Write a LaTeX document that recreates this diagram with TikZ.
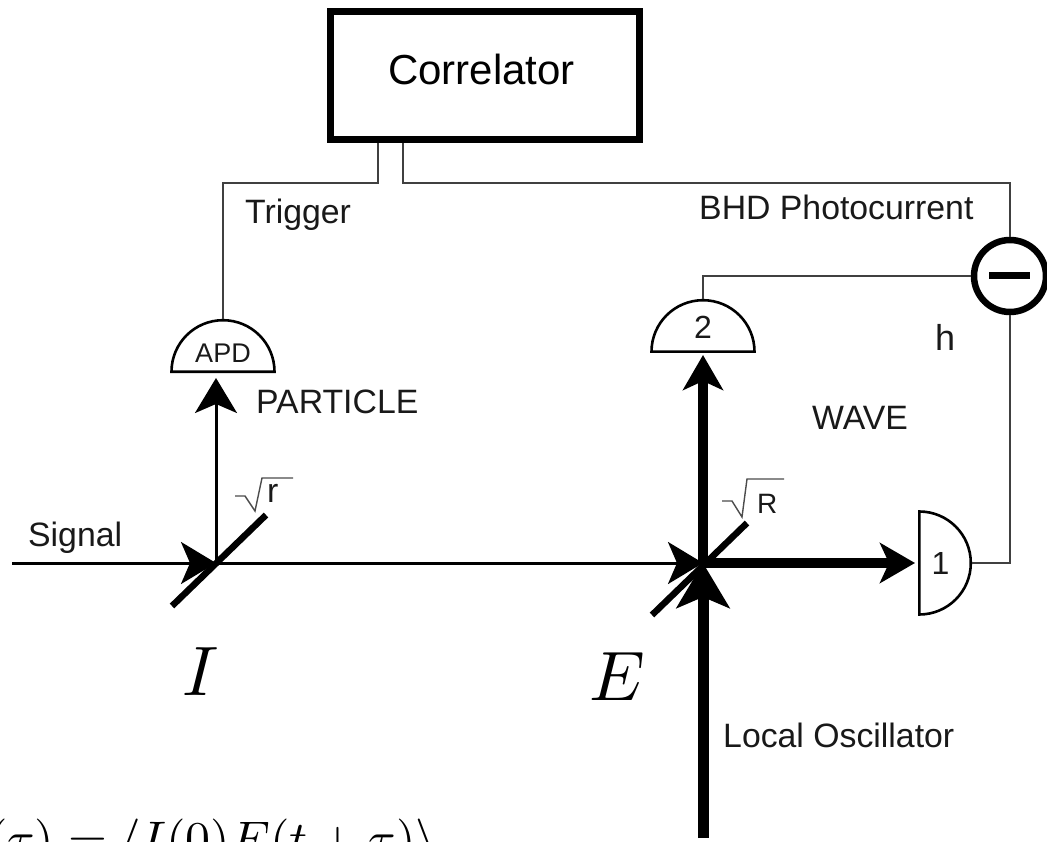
\documentclass[tikz,border=0pt]{standalone}
\usepackage{amsmath}
\usepackage{amssymb}
\usepackage{fontspec}
\setmainfont{Liberation Sans}
\usepackage{tikz}
\usetikzlibrary{arrows.meta,shapes.geometric}

\begin{document}
\begin{tikzpicture}[x=1pt,y=-1pt,
        txt/.style={font=\fontsize{33.8}{36}\selectfont,text=black!90,inner sep=0pt,anchor=base west},
        symb/.style={inner sep=0pt,anchor=base west},
        wire/.style={draw=black!75,line width=1.8pt,line join=miter},
        rootline/.style={draw=black!70,line width=1.4pt},
        mirror/.style={line width=6.5pt},
        weakbeam/.style={line width=3pt,-{Stealth[length=35pt,width=42pt,inset=9pt]}},
        strongbeam/.style={line width=10.5pt,-{Stealth[length=35pt,width=40pt,inset=9pt]}},
        detector/.style={draw,line width=2.6pt,shape=semicircle,minimum width=103pt,minimum height=51pt,inner sep=0pt,text=black!90,font=\fontsize{32}{32}\selectfont}
    ]
        \useasboundingbox (0,0) rectangle (1047,842);
        \clip (0,0) rectangle (1047,842);

        \node[draw,line width=7pt,minimum width=309pt,minimum height=128pt,inner sep=0pt] (correlator) at (485,75.5) {};
        \node[txt,font=\fontsize{42}{44}\selectfont,text=black] (corrlabel) at (388,85) {Correlator};

        \node[detector,anchor=chord center,font=\fontsize{27}{27}\selectfont] (apd) at (223,373) {\raisebox{3pt}{APD}};
        \node[detector,anchor=chord center] (dettwo) at (703,353) {\raisebox{3pt}{2}};
        \node[detector,anchor=chord center,shape border rotate=270] (detone) at (918,563) {1};
        \node[draw,circle,line width=6.5pt,minimum size=72pt,inner sep=0pt] (minus) at (1010,276) {};
        \draw[line width=7pt] (989,276) -- (1030,276);

        \coordinate (trigout) at (378,143);
        \coordinate (bhdout) at (403,143);
        \coordinate (sigin) at (12,563);
        \coordinate (bsi) at (216,563);
        \coordinate (bse) at (703,563);
        \coordinate (apdin) at (216,378);
        \coordinate (twoin) at (703,355);
        \coordinate (onein) at (915,563);
        \coordinate (loin) at (703,838);

        \draw[wire] (trigout) -- ++(0,40) -| (apd.apex);
        \draw[wire] (bhdout) -- ++(0,40) -| (minus.north);
        \draw[wire] (dettwo.apex) |- (minus.west);
        \draw[wire] (minus.south) |- (detone.apex);

        \draw[weakbeam] (sigin) -- (bsi);
        \draw[weakbeam] (bsi) -- (bse);
        \draw[weakbeam] (bsi) -- (apdin);
        \draw[strongbeam] (bse) -- (twoin);
        \draw[strongbeam] (bse) -- (onein);
        \draw[line width=11pt,-{Stealth[length=45pt,width=53pt,inset=11pt]}] (loin) -- (bse);

        \draw[mirror] (172,606) -- (266,515);
        \draw[mirror] (652,615) -- (747,523);

        \draw[rootline] (235,496) -- (245,496) -- (255,511) -- (262,478) -- (293,478);
        \draw[rootline] (722,501) -- (732,501) -- (742,517) -- (747,479) -- (784,479);

        \node[txt] (signal) at (28,546) {Signal};
        \node[txt] (trigger) at (245,224) {Trigger};
        \node[txt] (bhd) at (699,220) {BHD Photocurrent};
        \node[txt] (particle) at (256,413) {PARTICLE};
        \node[txt] (wave) at (812,429) {WAVE};
        \node[txt,font=\fontsize{36}{36}\selectfont] (hlabel) at (935,350) {h};
        \node[txt] (lolabel) at (723,747) {Local Oscillator};
        \node[txt] (smallr) at (267,502) {r};
        \node[txt,font=\fontsize{28}{28}\selectfont] (bigr) at (757,513) {R};

        \node[symb,scale=7] (intensity) at (181,695) {$I$};
        \node[symb,scale=7] (field) at (588,700) {$E$};
        \node[symb,scale=5] (corrfunc) at (-13,856) {$(\tau)=\langle I(0)E(t+\tau)\rangle$};
\end{tikzpicture}
\end{document}
